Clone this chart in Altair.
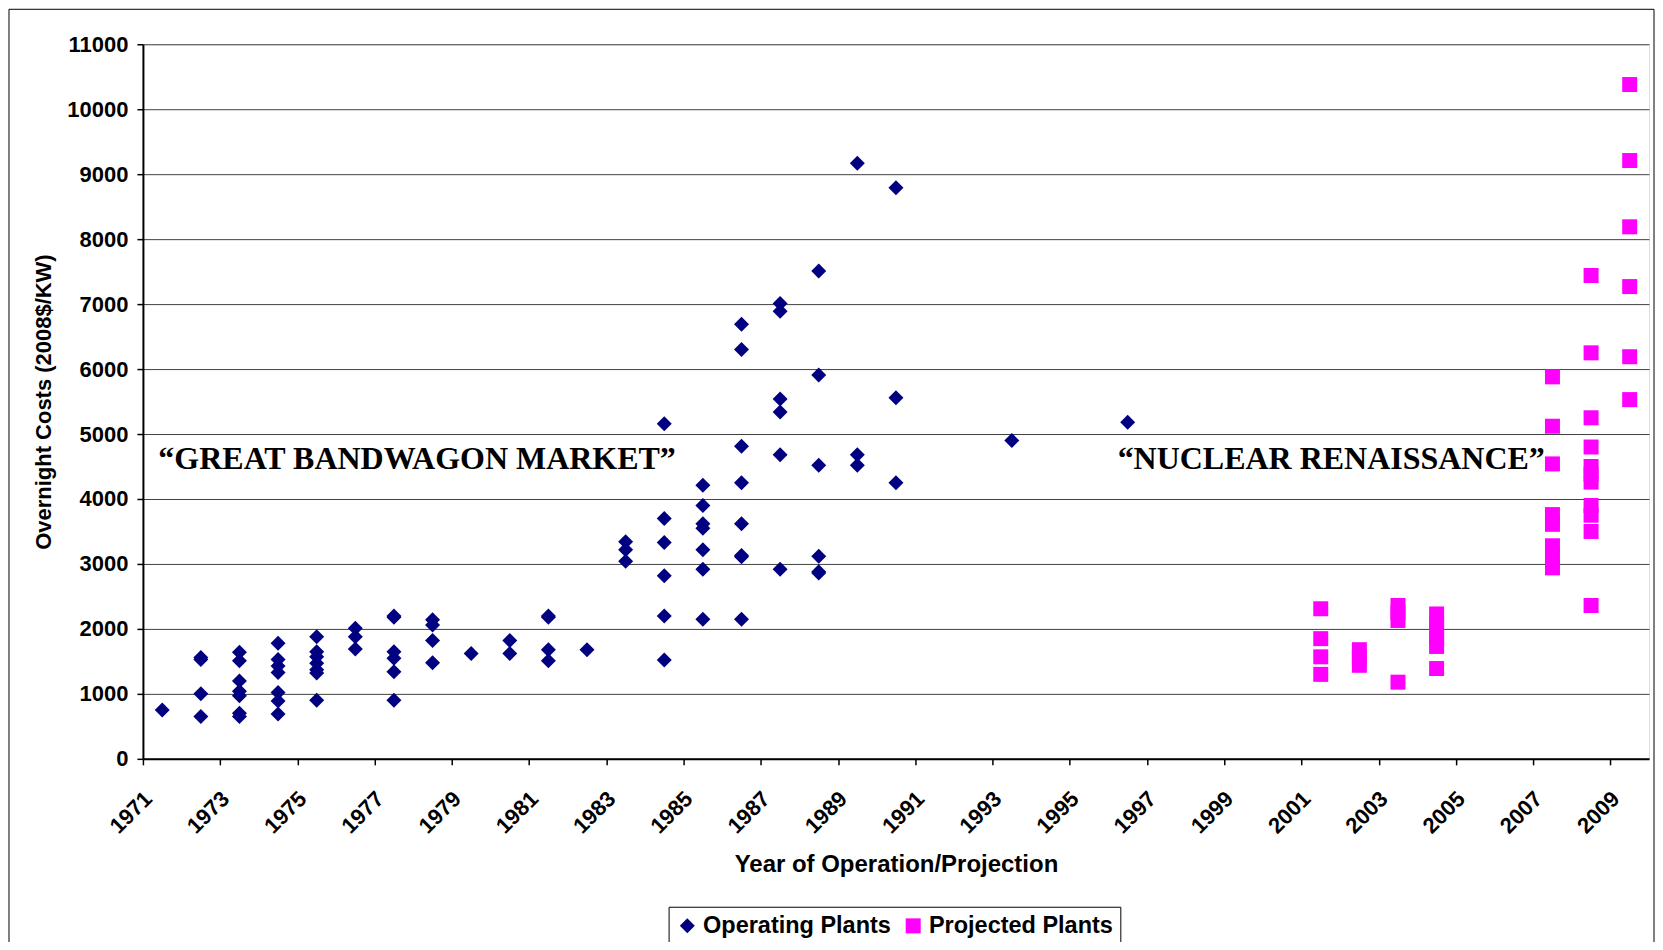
import altair as alt
import pandas as pd

# ---- data ----
series_names = ["Operating Plants", "Projected Plants"]
series_colors = ["#000080", "#FF00FF"]
series_shapes = ["diamond", "square"]

op_years = [1971, 1972, 1973, 1974, 1975, 1976, 1977, 1978, 1979, 1980,
            1981, 1982, 1983, 1984, 1985, 1986, 1987, 1988, 1989, 1990, 1993, 1996]
op_costs = [
    [750],
    [1560, 1530, 1000, 650],
    [1640, 1510, 1200, 1040, 970, 700, 650],
    [1780, 1530, 1430, 1330, 1020, 890, 690],
    [1880, 1650, 1570, 1470, 1370, 1320, 900],
    [2010, 1880, 1690],
    [2200, 2180, 1650, 1550, 1340, 900],
    [2140, 2060, 1820, 1480],
    [1620],
    [1820, 1620],
    [2200, 2180, 1680, 1510],
    [1680],
    [3340, 3220, 3040],
    [5160, 3700, 3330, 2820, 2200, 1520],
    [4210, 3900, 3620, 3550, 3220, 2920, 2150],
    [6690, 6300, 4810, 4250, 3620, 3130, 3110, 2150],
    [7010, 6890, 5540, 5340, 4680, 2920],
    [7510, 5910, 4520, 3120, 2880, 2860],
    [9170, 4680, 4520],
    [8790, 5560, 4250],
    [4900],
    [5180],
]

proj_years = [2001, 2002, 2003, 2004, 2007, 2008, 2009]
proj_costs = [
    [2310, 1850, 1570, 1300],
    [1680, 1560, 1440],
    [2360, 2250, 2130, 1180],
    [2230, 2100, 1980, 1850, 1730, 1390],
    [5880, 5120, 4540, 3760, 3610, 3280, 3110, 2940],
    [7440, 6250, 5250, 4800, 4500, 4380, 4260, 3900, 3750, 3500, 2360],
    [10380, 9210, 8190, 7270, 6190, 5530],
]

ann_labels = ["\u201cGREAT BANDWAGON MARKET\u201d", "\u201cNUCLEAR RENAISSANCE\u201d"]
ann_year = [1970.9, 1995.74]
ann_cost = [4620, 4620]

x_tick_values = [1970.5 + 2 * k for k in range(20)]
y_tick_values = list(range(0, 11001, 1000))

# ---- build table ----
rows = []
for yr, vals in zip(op_years, op_costs):
    for v in vals:
        rows.append({"year": yr, "cost": v, "series": series_names[0]})
for yr, vals in zip(proj_years, proj_costs):
    for v in vals:
        rows.append({"year": yr, "cost": v, "series": series_names[1]})
df = pd.DataFrame(rows)
ann_df = pd.DataFrame({"year": ann_year, "cost": ann_cost, "label": ann_labels})

SANS = "Liberation Sans"
SERIF = "Liberation Serif"

x_scale = alt.Scale(domain=[1970.5, 2009.5], nice=False, zero=False)
y_scale = alt.Scale(domain=[0, 11000], nice=False)

x_axis = alt.Axis(
    values=x_tick_values,
    labelExpr="format(datum.value + 0.5, 'd')",
    labelAngle=315, labelAlign="right", labelBaseline="middle",
    labelOffset=5, labelPadding=30,
    labelOverlap=False, labelFlush=False, labelBound=False,
    labelFont=SANS, labelFontSize=22, labelFontWeight="bold", labelColor="black",
    tickSize=6, tickColor="black", tickWidth=1.5,
    domainColor="black", domainWidth=2, grid=False,
    title="Year of Operation/Projection",
    titleFont=SANS, titleFontSize=24, titleFontWeight="bold", titleColor="black",
    titleX=753.5, titleY=113, titleAlign="center", titleBaseline="alphabetic", titleAngle=0,
)
y_axis = alt.Axis(
    values=y_tick_values, format="d",
    labelFont=SANS, labelFontSize=22, labelFontWeight="bold", labelColor="black",
    labelPadding=9, labelFlush=False, labelOverlap=False,
    tickSize=6, tickColor="black", tickWidth=1.5,
    domainColor="black", domainWidth=2,
    grid=True, gridColor="#404040", gridWidth=1,
    title="Overnight Costs (2008$/KW)",
    titleFont=SANS, titleFontSize=22, titleFontWeight="bold", titleColor="black",
    titleX=-99, titleY=357.5, titleAngle=270, titleAlign="center", titleBaseline="middle",
)

leg = alt.Legend(
    orient="none", legendX=526, legendY=863, direction="horizontal", title=None,
    labelFont=SANS, labelFontSize=23.5, labelFontWeight="bold", labelColor="black",
    labelLimit=0, labelOffset=4, columnPadding=10, symbolSize=225, symbolStrokeWidth=0,
    strokeColor="black", fillColor="white", padding=7,
)

frame = alt.Chart(pd.DataFrame({"k": [0]})).mark_rect(
    fill="white", fillOpacity=0, stroke="black", strokeWidth=1
).encode(x=alt.value(-134), x2=alt.value(1512), y=alt.value(-35), y2=alt.value(960))

points = alt.Chart(df).mark_point(filled=True, opacity=1, size=225, strokeWidth=0).encode(
    x=alt.X("year:Q", scale=x_scale, axis=x_axis),
    y=alt.Y("cost:Q", scale=y_scale, axis=y_axis),
    color=alt.Color("series:N", scale=alt.Scale(domain=series_names, range=series_colors), legend=leg),
    shape=alt.Shape("series:N", scale=alt.Scale(domain=series_names, range=series_shapes), legend=leg),
)

ann = alt.Chart(ann_df).mark_text(
    align="left", baseline="middle", font=SERIF, fontSize=32, fontWeight="bold", color="black"
).encode(
    x=alt.X("year:Q", scale=x_scale, axis=x_axis),
    y=alt.Y("cost:Q", scale=y_scale, axis=y_axis),
    text="label:N",
)

chart = alt.layer(frame, points, ann).properties(
    width=1507, height=715,
    autosize=alt.AutoSizeParams(type="none"),
    padding={"left": 135, "top": 36, "right": 6, "bottom": 183},
).configure_view(stroke="#808080", strokeWidth=2).configure(background="white")

chart.save("out.html", embed_options={"renderer": "svg", "actions": False})
